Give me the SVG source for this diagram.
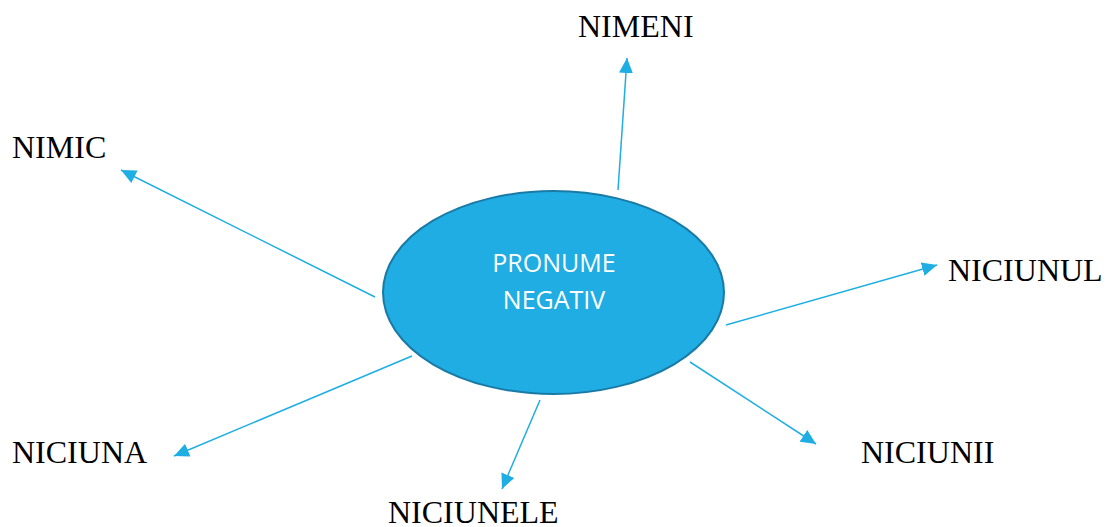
<svg xmlns="http://www.w3.org/2000/svg" width="1106" height="527" viewBox="0 0 1106 527">
<style>
.lbl{font-family:"Liberation Serif","Times New Roman",serif;font-size:32px;fill:#000}
.ctr{font-family:"Open Sans","Liberation Sans",sans-serif;font-size:25px;fill:#fff;text-anchor:middle}
.conn{stroke:#1eaee3;stroke-width:1.5;fill:none;marker-end:url(#ah)}
</style>
<defs>
<marker id="ah" markerUnits="userSpaceOnUse" markerWidth="16" markerHeight="14" refX="15" refY="7" orient="auto">
<path d="M0,0 L15,7 L0,14 z" fill="#1eaee3"/>
</marker>
</defs>
<rect width="1106" height="527" fill="#fff"/>
<g id="connectors">
<line class="conn" x1="618" y1="190" x2="627" y2="58"/>
<line class="conn" x1="375" y1="297" x2="121" y2="170"/>
<line class="conn" x1="726" y1="325" x2="937" y2="265"/>
<line class="conn" x1="690" y1="362" x2="816" y2="444"/>
<line class="conn" x1="412" y1="356" x2="174" y2="456"/>
<line class="conn" x1="540" y1="400" x2="502" y2="489"/>
</g>
<g id="center">
<ellipse cx="553.5" cy="292.5" rx="170.5" ry="101.5" fill="#1fade3" stroke="#1a7aa6" stroke-width="2"/>
<text class="ctr" x="554" y="272">PRONUME</text>
<text class="ctr" x="554" y="309">NEGATIV</text>
</g>
<g id="nimeni"><text class="lbl" x="578" y="37">NIMENI</text></g>
<g id="nimic"><text class="lbl" x="12" y="158">NIMIC</text></g>
<g id="niciunul"><text class="lbl" x="948" y="281">NICIUNUL</text></g>
<g id="niciunii"><text class="lbl" x="861" y="463">NICIUNII</text></g>
<g id="niciuna"><text class="lbl" x="12" y="463">NICIUNA</text></g>
<g id="niciunele"><text class="lbl" x="388" y="523">NICIUNELE</text></g>
</svg>
